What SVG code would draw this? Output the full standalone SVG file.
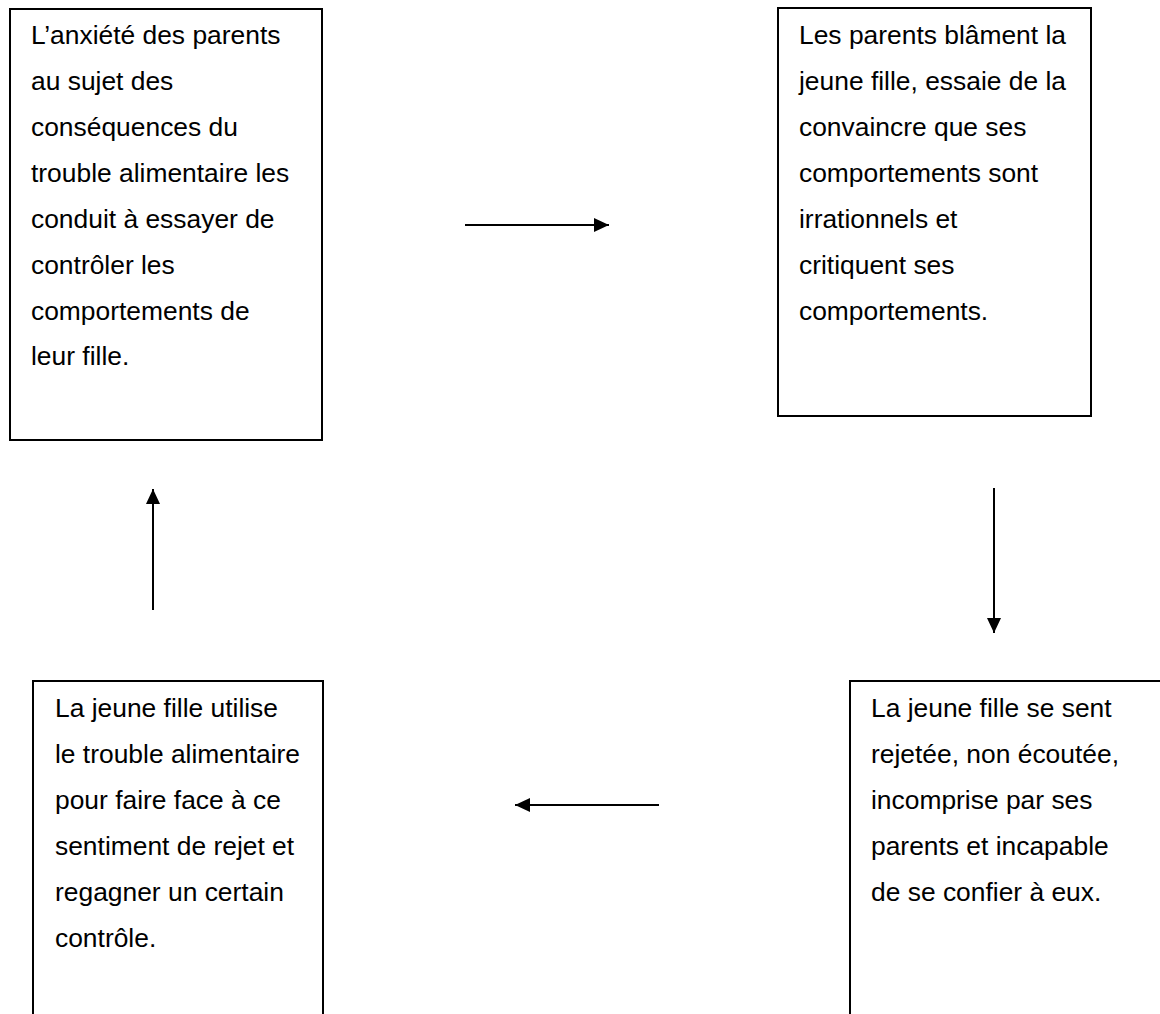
<svg xmlns="http://www.w3.org/2000/svg" width="1160" height="1014" viewBox="0 0 1160 1014">
<style>
.box{fill:#fff;stroke:#000;stroke-width:2}
.t{font-family:"Liberation Sans",Arial,sans-serif;font-size:26.4px;fill:#000}
.c{stroke:#000;stroke-width:2;fill:none}
</style>
<defs>
<marker id="ah" viewBox="0 0 15 14" refX="15" refY="7" markerWidth="15" markerHeight="14" markerUnits="userSpaceOnUse" orient="auto">
<path d="M0,0 L15,7 L0,14 Z" fill="#000"/>
</marker>
</defs>
<rect width="1160" height="1014" fill="#fff"/>
<g id="node1">
<rect class="box" x="10" y="9" width="312" height="431"/>
<text class="t" x="31" y="44">L’anxiété des parents</text>
<text class="t" x="31" y="90">au sujet des</text>
<text class="t" x="31" y="136">conséquences du</text>
<text class="t" x="31" y="182">trouble alimentaire les</text>
<text class="t" x="31" y="228">conduit à essayer de</text>
<text class="t" x="31" y="274">contrôler les</text>
<text class="t" x="31" y="320">comportements de</text>
<text class="t" x="31" y="365">leur fille.</text>
</g>
<g id="node2">
<rect class="box" x="778" y="8" width="313" height="408"/>
<text class="t" x="799" y="44">Les parents blâment la</text>
<text class="t" x="799" y="90">jeune fille, essaie de la</text>
<text class="t" x="799" y="136">convaincre que ses</text>
<text class="t" x="799" y="182">comportements sont</text>
<text class="t" x="799" y="228">irrationnels et</text>
<text class="t" x="799" y="274">critiquent ses</text>
<text class="t" x="799" y="320">comportements.</text>
</g>
<g id="node3">
<rect class="box" x="850" y="681" width="400" height="400"/>
<text class="t" x="871" y="717">La jeune fille se sent</text>
<text class="t" x="871" y="763">rejetée, non écoutée,</text>
<text class="t" x="871" y="809">incomprise par ses</text>
<text class="t" x="871" y="855">parents et incapable</text>
<text class="t" x="871" y="901">de se confier à eux.</text>
</g>
<g id="node4">
<rect class="box" x="33" y="681" width="290" height="400"/>
<text class="t" x="55" y="717">La jeune fille utilise</text>
<text class="t" x="55" y="763">le trouble alimentaire</text>
<text class="t" x="55" y="809">pour faire face à ce</text>
<text class="t" x="55" y="855">sentiment de rejet et</text>
<text class="t" x="55" y="901">regagner un certain</text>
<text class="t" x="55" y="947">contrôle.</text>
</g>
<g id="connectors">
<line class="c" x1="465" y1="225" x2="609" y2="225" marker-end="url(#ah)"/>
<line class="c" x1="994" y1="488" x2="994" y2="633" marker-end="url(#ah)"/>
<line class="c" x1="659" y1="805" x2="515" y2="805" marker-end="url(#ah)"/>
<line class="c" x1="153" y1="610" x2="153" y2="489" marker-end="url(#ah)"/>
</g>
</svg>
